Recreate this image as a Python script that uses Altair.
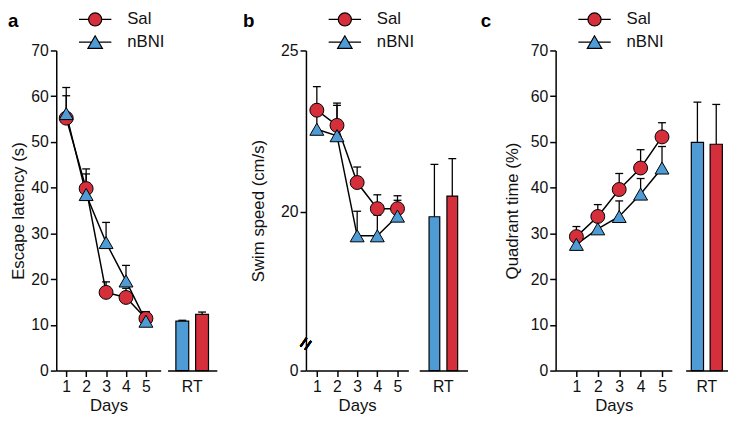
import altair as alt
import pandas as pd

FONT = "Liberation Sans"
RED = "#d42f3b"
BLUE = "#4f9bd5"
INK = "#111111"

days = [1, 2, 3, 4, 5]
groups = ["Sal", "nBNI"]
rt_groups = ["nBNI", "Sal"]

# Panel a: escape latency (s)
a_sal = [55.2, 39.8, 17.1, 16.0, 11.4]
a_sal_up = [60.1, 43.0, 19.4, 18.0, 12.9]
a_nbni = [56.2, 38.5, 28.0, 19.6, 10.8]
a_nbni_up = [61.9, 44.1, 32.4, 23.0, 12.5]
a_rt = [10.8, 12.3]          # nBNI, Sal
a_rt_up = [11.0, 12.8]

# Panel b: swim speed (cm/s)
b_sal = [23.15, 22.68, 20.91, 20.10, 20.10]
b_sal_up = [23.88, 23.37, 21.39, 20.53, 20.50]
b_nbni = [22.56, 22.36, 19.26, 19.26, 19.87]
b_nbni_up = [23.00, 23.30, 20.02, 19.90, 20.36]
b_rt = [19.85, 20.49]
b_rt_up = [21.47, 21.65]

# Panel c: quadrant time (%)
c_sal = [29.3, 33.7, 39.6, 44.3, 51.1]
c_sal_up = [31.5, 36.3, 43.1, 48.3, 54.2]
c_nbni = [27.6, 31.0, 33.7, 38.6, 44.3]
c_nbni_up = [29.5, 33.0, 37.1, 42.0, 49.0]
c_rt = [49.9, 49.5]
c_rt_up = [58.7, 58.2]

SAL_PATH = ("M-2.35,0H-0.95M0.95,0H2.35"
            "M0.95,0A0.95,0.95,0,1,1,-0.95,0A0.95,0.95,0,1,1,0.95,0Z")
NBNI_PATH = ("M-2.35,0H-0.53M0.53,0H2.35"
             "M0,-0.91L-1.05,0.91L1.05,0.91Z")

H = 325


def make_panel(letter, ytitle, sal, sal_up, nb, nb_up, rt, rt_up,
               ydom, yrng, yticks, xdom, xlen, width, bar_rng, pi, po,
               title_dx, ytp, broken=False):
    line_df = pd.DataFrame({
        "day": days * 2,
        "group": ["Sal"] * 5 + ["nBNI"] * 5,
        "mean": sal + nb,
        "upper": sal_up + nb_up,
    })
    bar_df = pd.DataFrame({
        "cond": ["RT", "RT"],
        "group": rt_groups,
        "mean": rt,
        "upper": rt_up,
    })
    if yrng is not None:
        yscale = alt.Scale(domain=ydom, range=yrng, nice=False, zero=False)
    else:
        yscale = alt.Scale(domain=ydom, nice=False, zero=False)
    yaxis = alt.Axis(title=ytitle, values=yticks, titlePadding=ytp,
                     labelOverlap=False)
    y = alt.Y("mean:Q", scale=yscale, axis=yaxis)
    yu = alt.Y("upper:Q", scale=yscale, axis=yaxis)

    xscale = alt.Scale(domain=xdom, range=[0, xlen], nice=False, zero=False)
    xaxis = alt.Axis(title="Days", values=days, format="d", orient="bottom",
                     titlePadding=4, labelFlush=False)
    x = alt.X("day:Q", scale=xscale, axis=xaxis)

    legend = alt.Legend(
        title=None, orient="none", legendX=31, legendY=-40,
        symbolType={"expr": "datum.value == 'Sal' ? '%s' : '%s'" % (SAL_PATH, NBNI_PATH)},
        symbolSize=196, symbolStrokeColor="black", symbolStrokeWidth=1.2,
        labelFontSize=17, labelFont=FONT, labelColor=INK, labelOffset=24,
        rowPadding=4, padding=0, symbolOffset=0,
    )
    fill = alt.Fill("group:N", scale=alt.Scale(domain=groups, range=[RED, BLUE]),
                    legend=legend)
    # data-driven domain (sorted: "Sal" < "nBNI"), kept apart from the fill legend
    shape = alt.Shape("group:N", scale=alt.Scale(range=["circle", "triangle-up"]),
                      legend=None)

    base = alt.Chart(line_df)
    err = base.mark_rule(color="black", strokeWidth=1.3).encode(x=x, y=y, y2="upper:Q")
    cap = base.mark_tick(orient="horizontal", size=8, thickness=1.3, color="black",
                         opacity=1).encode(x=x, y=yu)
    line = base.mark_line(color="black", strokeWidth=1.5).encode(x=x, y=y, detail="group:N")
    pts = base.mark_point(filled=True, stroke="black", strokeWidth=1, size=200,
                          opacity=1).encode(x=x, y=y, fill=fill, shape=shape)
    line_layers = [err, cap, line, pts]
    if broken:
        brk = alt.Chart(line_df).mark_text(text="=", angle=305, fontSize=22, font=FONT,
                                           color="black", align="center",
                                           baseline="middle").encode(
            x=alt.datum(xdom[0], type="quantitative"),
            y=alt.datum(14.5, type="quantitative"))
        line_layers.append(brk)
    line_group = alt.layer(*line_layers)

    bx = alt.X("cond:N", scale=alt.Scale(range=bar_rng, paddingInner=0, paddingOuter=0),
               axis=alt.Axis(title=None, orient="bottom", labelAngle=0, tickOpacity=0,
                             labelPadding=2))
    bxo = alt.XOffset("group:N", scale=alt.Scale(domain=rt_groups, paddingInner=pi,
                                                 paddingOuter=po))
    bbase = alt.Chart(bar_df)
    bars = bbase.mark_bar(stroke="black", strokeWidth=1.2, opacity=1).encode(
        x=bx, xOffset=bxo, y=y, fill=fill)
    berr = bbase.mark_rule(color="black", strokeWidth=1.3).encode(
        x=bx, xOffset=bxo, y=y, y2="upper:Q")
    bcap = bbase.mark_tick(orient="horizontal", size=8, thickness=1.3, color="black",
                           opacity=1).encode(x=bx, xOffset=bxo, y=yu)
    bar_group = alt.layer(berr, bcap, bars)

    title = alt.TitleParams(letter, anchor="start", frame="group", dx=title_dx, dy=20,
                            fontSize=19, fontWeight="bold", font=FONT, color="black",
                            offset=0)
    return alt.layer(line_group, bar_group).resolve_scale(
        x="independent").resolve_axis(x="independent").properties(
        width=width, height=H, title=title)


pa = make_panel("a", "Escape latency (s)", a_sal, a_sal_up, a_nbni, a_nbni_up, a_rt, a_rt_up,
                [0, 70], None, [0, 10, 20, 30, 40, 50, 60, 70], [0.5, 5.74], 106, 164,
                [113, 163], 0.35, 0.42, -49, 3)
pb = make_panel("b", "Swim speed (cm/s)", b_sal, b_sal_up, b_nbni, b_nbni_up, b_rt, b_rt_up,
                [0, 16, 25], [H, 295, 0], [0, 20, 25], [0.46, 5.54], 104, 164,
                [115, 164], 0.4, 0.55, -64, 13, broken=True)
pc = make_panel("c", "Quadrant time (%)", c_sal, c_sal_up, c_nbni, c_nbni_up, c_rt, c_rt_up,
                [0, 70], None, [0, 10, 20, 30, 40, 50, 60, 70], [0.03, 5.46], 118, 175,
                [132, 175], 0.35, 0.3, -76, 9)

chart = alt.hconcat(pa, pb, pc, spacing=89.5, bounds="flush").resolve_scale(
    y="independent", fill="independent", shape="independent", xOffset="independent"
).properties(
    padding={"left": 0, "top": 0, "right": 0, "bottom": 0}
).configure_view(stroke=None).configure_axis(
    domainColor="black", domainWidth=1.5, tickColor="black", tickWidth=1.5, tickSize=6,
    labelPadding=2, labelFontSize=16, labelFont=FONT, labelColor=INK,
    titleFontSize=17, titleFont=FONT, titleFontWeight="normal", titleColor=INK, grid=False
)

chart.save("out.html", embed_options={"renderer": "svg", "actions": False})
